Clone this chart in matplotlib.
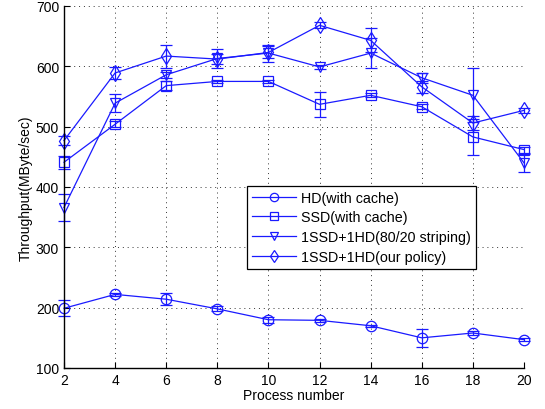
import matplotlib
matplotlib.use("Agg")
import matplotlib.pyplot as plt
from matplotlib.lines import Line2D

plt.rcParams['font.family'] = ['Liberation Sans', 'DejaVu Sans']

processes = [2, 4, 6, 8, 10, 12, 14, 16, 18, 20]

hd_mean = [199, 222, 214, 198, 180, 179, 170, 150, 158, 147]
hd_err = [13, 2, 10, 4, 5, 3, 2, 15, 3, 2]

ssd_mean = [441, 504, 568, 575, 575, 537, 552, 533, 483, 462]
ssd_err = [11, 5, 8, 3, 3, 21, 3, 4, 30, 5]

stripe_mean = [366, 539, 586, 613, 622, 599, 622, 581, 552, 440]
stripe_err = [22, 15, 5, 15, 14, 3, 25, 8, 45, 15]

policy_mean = [477, 589, 617, 612, 623, 668, 643, 566, 506, 527]
policy_err = [8, 10, 19, 8, 10, 5, 20, 10, 11, 4]

labels = ['HD(with cache)', 'SSD(with cache)',
          '1SSD+1HD(80/20 striping)', '1SSD+1HD(our policy)']
markers = ['o', 's', 'v', 'd']
msizes = [7.5, 6.5, 7.5, 7.8]
color = '#1a1aff'

fig = plt.figure(figsize=(5.45, 4.10), dpi=100)
ax = fig.add_axes([64 / 545, 41 / 410, 460 / 545, 362 / 410])

series = [(hd_mean, hd_err), (ssd_mean, ssd_err),
          (stripe_mean, stripe_err), (policy_mean, policy_err)]
handles = []
for (m, e), mk, lab, ms in zip(series, markers, labels, msizes):
    cont = ax.errorbar(processes, m, yerr=e, color=color, marker=mk,
                       markersize=ms, markerfacecolor='none', markeredgewidth=0.9,
                       linewidth=0.9, elinewidth=0.9, capsize=4, capthick=0.9)
    for art in [cont[0], *cont[1], *cont[2]]:
        art.set_clip_on(False)
    handles.append(Line2D([], [], color=color, marker=mk, markersize=ms,
                          markerfacecolor='none', markeredgewidth=0.9,
                          linewidth=0.9, label=lab))

ax.set_xlim(2, 20)
ax.set_ylim(100, 700)
ax.set_xticks(processes)
ax.set_yticks(range(100, 701, 100))
ax.grid(True, linestyle=(0, (1, 4)), color='#333333', linewidth=0.7)
ax.tick_params(direction='in', labelsize=10, length=4, width=0.8)
for side in ('top', 'right'):
    ax.spines[side].set_visible(False)
for side in ('left', 'bottom'):
    ax.spines[side].set_linewidth(1.0)

ax.set_xlabel('Process number', fontsize=10, labelpad=1)
ax.set_ylabel('Throughput(MByte/sec)', fontsize=10, labelpad=2)

leg = ax.legend(handles=handles, loc='upper left',
                bbox_to_anchor=((246.7 - 64) / 460, (369 - 186.7) / 362),
                fontsize=10.3, frameon=True, fancybox=False, edgecolor='black',
                framealpha=1, handlelength=3.1, borderpad=0.35, labelspacing=0.4,
                handletextpad=0.35, borderaxespad=0, markerscale=0.8)
leg.get_frame().set_linewidth(0.9)

fig.savefig('out.png', dpi=100)
